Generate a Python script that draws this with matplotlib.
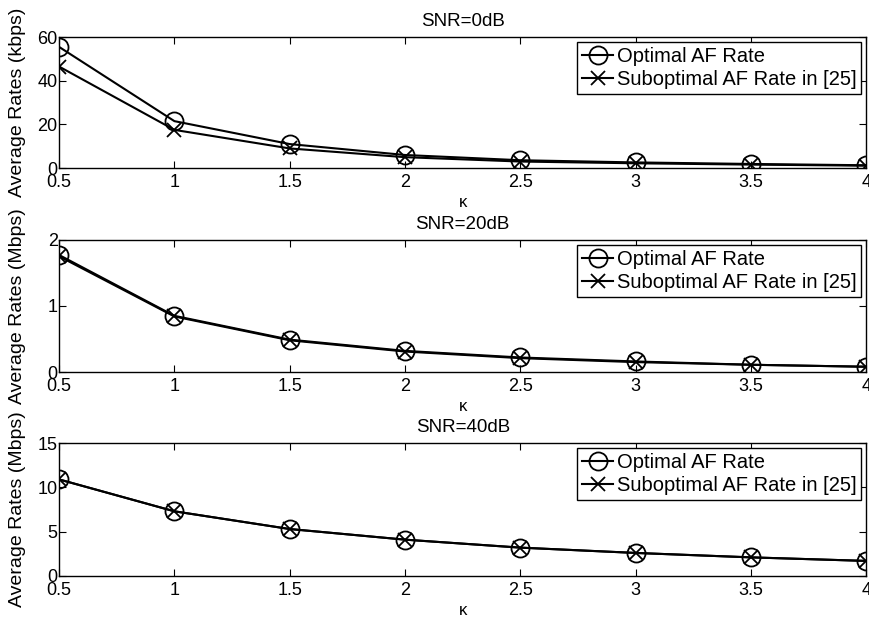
import matplotlib
matplotlib.use("Agg")
import matplotlib.pyplot as plt

plt.rcParams['font.family'] = ['Liberation Sans', 'DejaVu Sans']

kappa = [0.5, 1, 1.5, 2, 2.5, 3, 3.5, 4]

# SNR = 0 dB (kbps)
opt_0db = [55.5, 21.5, 11.0, 6.0, 3.6, 2.6, 1.9, 1.3]
sub_0db = [46.5, 17.5, 9.0, 5.0, 3.0, 2.2, 1.6, 1.1]
# SNR = 20 dB (Mbps)
opt_20db = [1.77, 0.85, 0.49, 0.32, 0.22, 0.16, 0.11, 0.08]
sub_20db = [1.75, 0.84, 0.48, 0.31, 0.21, 0.15, 0.11, 0.08]
# SNR = 40 dB (Mbps)
opt_40db = [10.9, 7.3, 5.3, 4.1, 3.2, 2.6, 2.1, 1.7]
sub_40db = [10.9, 7.3, 5.3, 4.1, 3.2, 2.6, 2.1, 1.7]

titles = ["SNR=0dB", "SNR=20dB", "SNR=40dB"]
ylabels = ["Average Rates (kbps)", "Average Rates (Mbps)", "Average Rates (Mbps)"]
ylims = [(0, 60), (0, 2), (0, 15)]
yticks = [[0, 20, 40, 60], [0, 1, 2], [0, 5, 10, 15]]
series = [(opt_0db, sub_0db), (opt_20db, sub_20db), (opt_40db, sub_40db)]

fig = plt.figure(figsize=(8.69, 6.18), dpi=100)
positions = [
    [0.068, 0.728, 0.929, 0.212],
    [0.068, 0.398, 0.929, 0.214],
    [0.068, 0.068, 0.929, 0.215],
]

for i in range(3):
    ax = fig.add_axes(positions[i])
    opt, sub = series[i]
    ax.plot(kappa, opt, color="black", lw=1.5, marker="o", ms=13,
            mfc="none", mec="black", mew=1.3, label="Optimal AF Rate")
    ax.plot(kappa, sub, color="black", lw=1.5, marker="x", ms=10,
            mec="black", mew=1.3, label="Suboptimal AF Rate in [25]")
    ax.set_xlim(0.5, 4)
    ax.set_ylim(*ylims[i])
    ax.set_yticks(yticks[i])
    ax.set_xticks(kappa)
    ax.set_xticklabels(["0.5", "1", "1.5", "2", "2.5", "3", "3.5", "4"])
    ax.tick_params(direction="in", top=True, right=True, labelsize=13,
                   length=5)
    ax.tick_params(axis="x", pad=4)
    ax.tick_params(axis="y", pad=1)
    ax.set_title(titles[i], fontsize=13.5, pad=8)
    ax.set_xlabel("\u03ba", fontsize=12, labelpad=3)
    ax.set_ylabel(ylabels[i], fontsize=14)
    ax.yaxis.set_label_coords(-0.041, 0.5)
    for sp in ax.spines.values():
        sp.set_linewidth(1.0)
    leg = ax.legend(loc="upper right", fontsize=14.5, frameon=True, fancybox=False,
                    edgecolor="black", framealpha=1, handlelength=1.5,
                    handletextpad=0.2, borderpad=0.25, labelspacing=0.2,
                    borderaxespad=0.25)
    leg.get_frame().set_linewidth(1.0)

fig.savefig("out.png", dpi=100)
